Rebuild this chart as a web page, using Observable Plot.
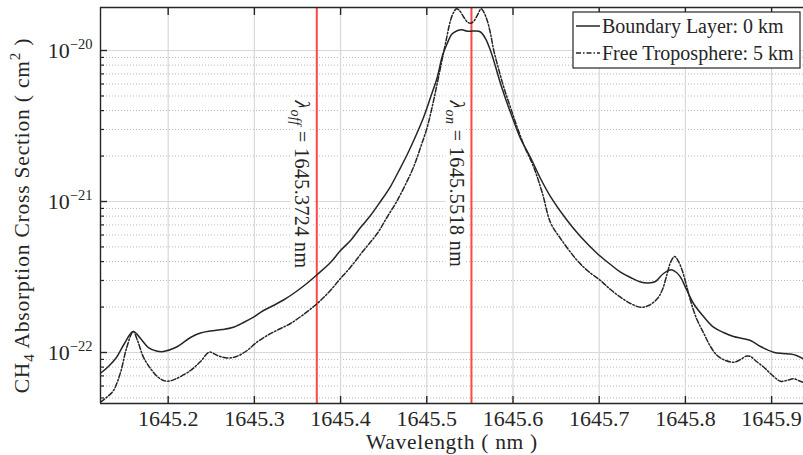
<!DOCTYPE html>
<html>
<head>
<meta charset="utf-8">
<script src="https://cdn.jsdelivr.net/npm/d3@7"></script>
<script src="https://cdn.jsdelivr.net/npm/@observablehq/plot@0.6"></script>
<style>
  html, body { margin: 0; padding: 0; background: #fff; }
  #chart svg { display: block; }
</style>
</head>
<body>
<div id="chart"></div>
<script>
// ---- data ----
const blWl = [1645.1215,1645.1307,1645.1400,1645.1493,1645.1594,1645.1679,1645.1771,1645.1864,1645.1945,1645.2085,1645.2259,1645.2375,1645.2491,1645.2630,1645.2746,1645.2874,1645.2990,1645.3106,1645.3222,1645.3338,1645.3454,1645.3593,1645.3729,1645.3883,1645.3999,1645.4115,1645.4231,1645.4347,1645.4463,1645.4579,1645.4672,1645.4773,1645.4869,1645.4962,1645.5043,1645.5121,1645.5182,1645.5237,1645.5287,1645.5345,1645.5411,1645.5461,1645.5507,1645.5565,1645.5623,1645.5681,1645.5739,1645.5797,1645.5855,1645.5925,1645.6006,1645.6087,1645.6203,1645.6319,1645.6435,1645.6629,1645.6783,1645.6977,1645.7131,1645.7247,1645.7363,1645.7479,1645.7572,1645.7653,1645.7746,1645.7835,1645.7897,1645.7943,1645.8013,1645.8094,1645.8210,1645.8326,1645.8442,1645.8558,1645.8662,1645.8755,1645.8871,1645.9022,1645.9126,1645.9219,1645.9289,1645.9370];
const blSigma = [7.29e-23,8.08e-23,9.27e-23,1.147e-22,1.377e-22,1.238e-22,1.079e-22,1.023e-22,1.015e-22,1.079e-22,1.257e-22,1.346e-22,1.388e-22,1.420e-22,1.464e-22,1.580e-22,1.713e-22,1.897e-22,2.048e-22,2.227e-22,2.459e-22,2.820e-22,3.286e-22,3.945e-22,4.737e-22,5.515e-22,6.727e-22,8.075e-22,1.0e-21,1.257e-21,1.580e-21,2.048e-21,2.695e-21,3.600e-21,4.884e-21,6.625e-21,9.27e-21,1.113e-20,1.276e-20,1.346e-20,1.371e-20,1.346e-20,1.342e-20,1.346e-20,1.326e-20,1.201e-20,1.0e-20,7.834e-21,6.046e-21,4.596e-21,3.439e-21,2.613e-21,1.956e-21,1.420e-21,1.079e-21,7.485e-22,5.864e-22,4.524e-22,3.826e-22,3.403e-22,3.139e-22,2.930e-22,2.886e-22,2.952e-22,3.336e-22,3.529e-22,3.387e-22,3.153e-22,2.613e-22,2.111e-22,1.731e-22,1.471e-22,1.357e-22,1.276e-22,1.238e-22,1.201e-22,1.096e-22,1.005e-22,9.85e-23,9.77e-23,9.55e-23,9.06e-23];

const ftWl = [1645.1215,1645.1284,1645.1365,1645.1447,1645.1516,1645.1594,1645.1644,1645.1713,1645.1795,1645.1887,1645.1980,1645.2085,1645.2259,1645.2375,1645.2479,1645.2572,1645.2684,1645.2792,1645.2916,1645.3024,1645.3148,1645.3280,1645.3419,1645.3570,1645.3729,1645.3860,1645.3999,1645.4115,1645.4266,1645.4425,1645.4544,1645.4657,1645.4753,1645.4846,1645.4927,1645.5005,1645.5066,1645.5121,1645.5171,1645.5217,1645.5275,1645.5310,1645.5345,1645.5379,1645.5429,1645.5472,1645.5507,1645.5542,1645.5585,1645.5631,1645.5664,1645.5701,1645.5739,1645.5777,1645.5832,1645.5893,1645.5971,1645.6049,1645.6133,1645.6241,1645.6342,1645.6435,1645.6551,1645.6745,1645.6876,1645.7015,1645.7131,1645.7247,1645.7363,1645.7479,1645.7572,1645.7673,1645.7734,1645.7789,1645.7827,1645.7874,1645.7920,1645.7963,1645.8013,1645.8059,1645.8129,1645.8214,1645.8291,1645.8369,1645.8465,1645.8562,1645.8639,1645.8709,1645.8755,1645.8825,1645.8910,1645.8999,1645.9103,1645.9173,1645.9258,1645.9312,1645.9370];
const ftSigma = [4.688e-23,5.035e-23,5.602e-23,7.37e-23,1.063e-22,1.377e-22,1.201e-22,9.31e-23,7.834e-23,6.83e-23,6.455e-23,6.675e-23,7.60e-23,8.718e-23,1.005e-22,9.55e-23,9.197e-23,9.41e-23,1.031e-22,1.165e-22,1.296e-22,1.420e-22,1.556e-22,1.785e-22,2.111e-22,2.497e-22,3.091e-22,3.672e-22,4.737e-22,6.139e-22,7.95e-22,1.015e-21,1.296e-21,1.687e-21,2.279e-21,3.105e-21,4.323e-21,6.046e-21,8.326e-21,1.113e-20,1.580e-20,1.785e-20,1.889e-20,1.840e-20,1.662e-20,1.544e-20,1.516e-20,1.556e-20,1.705e-20,1.889e-20,1.785e-20,1.580e-20,1.296e-20,1.0e-20,7.60e-21,5.715e-21,4.193e-21,3.105e-21,2.313e-21,1.687e-21,1.130e-21,7.26e-22,5.69e-22,4.068e-22,3.439e-22,2.998e-22,2.613e-22,2.323e-22,2.111e-22,1.995e-22,2.048e-22,2.268e-22,2.613e-22,3.336e-22,3.945e-22,4.323e-22,4.005e-22,3.491e-22,2.777e-22,2.210e-22,1.679e-22,1.336e-22,1.096e-22,9.55e-23,8.85e-23,8.627e-23,8.985e-23,9.48e-23,9.41e-23,8.718e-23,7.99e-23,7.15e-23,6.455e-23,6.525e-23,6.695e-23,6.525e-23,6.328e-23];

const seriesNames = ["Boundary Layer: 0 km", "Free Troposphere: 5 km"];
const lineWl = [1645.3724, 1645.5518];
const lineName = ["off", "on"];

const xTicks = [1645.2, 1645.3, 1645.4, 1645.5, 1645.6, 1645.7, 1645.8, 1645.9];
const yMajor = [1e-22, 1e-21, 1e-20];
const yMinor = [5e-23,6e-23,7e-23,8e-23,9e-23,2e-22,3e-22,4e-22,5e-22,6e-22,7e-22,8e-22,9e-22,2e-21,3e-21,4e-21,5e-21,6e-21,7e-21,8e-21,9e-21];
const xDomain = [1645.1215, 1645.937];
const yDomain = [4.595e-23, 1.927e-20];

const xLabel = "Wavelength ( nm )";
const yLabel = "CH4 Absorption Cross Section ( cm2 )";

// ---- tables ----
const bl = blWl.map((w, i) => ({wl: w, s: blSigma[i]}));
const ft = ftWl.map((w, i) => ({wl: w, s: ftSigma[i]}));
const lines = lineWl.map((w, i) => ({wl: w, name: lineName[i]}));

const FONT = '"Liberation Serif", "Times New Roman", serif';
const INK = "#262626";

const chart = Plot.plot({
  width: 803,
  height: 455,
  marginLeft: 100,
  marginRight: 0,
  marginTop: 7,
  marginBottom: 52,
  style: {fontFamily: FONT, background: "#fff", color: INK, overflow: "visible"},
  x: {domain: xDomain},
  y: {type: "log", domain: yDomain},
  marks: [
    Plot.gridY(yMinor, {stroke: "#b8b8b8", strokeOpacity: 1, strokeWidth: 1, strokeDasharray: "1,2"}),
    Plot.gridY(yMajor, {stroke: "#d8d8d8", strokeOpacity: 1, strokeWidth: 1.2}),
    Plot.gridX(xTicks, {stroke: "#d8d8d8", strokeOpacity: 1, strokeWidth: 1.2}),
    Plot.ruleX(lines, {x: "wl", stroke: "#ff4747", strokeWidth: 2}),
    Plot.text(lines, {
      x: "wl",
      text: d => `λ${d.name} = ${d.wl.toFixed(4)} nm`,
      frameAnchor: "top",
      rotate: 90,
      textAnchor: "start",
      lineAnchor: "middle",
      dx: -15,
      dy: 93,
      fontSize: 20,
      fill: INK,
      stroke: "white",
      strokeWidth: 9,
      strokeLinejoin: "miter"
    }),
    Plot.line(bl, {x: "wl", y: "s", stroke: INK, strokeWidth: 1.5, curve: "catmull-rom", clip: true}),
    Plot.line(ft, {x: "wl", y: "s", stroke: INK, strokeWidth: 1.5, strokeDasharray: "5,2,1.5,2", curve: "catmull-rom", clip: true}),
    // axis lines
    Plot.ruleX([xDomain[0]], {stroke: INK, strokeWidth: 1.4}),
    Plot.ruleY([yDomain[0]], {stroke: INK, strokeWidth: 1.4}),
    Plot.ruleY([yDomain[1]], {stroke: INK, strokeWidth: 1.4}),
    // inward ticks
    Plot.axisX(xTicks, {anchor: "bottom", tickSize: -7, fill: "none", label: null, stroke: INK, strokeWidth: 1.4}),
    Plot.axisX(xTicks, {anchor: "top", tickSize: -7, fill: "none", label: null, stroke: INK, strokeWidth: 1.4}),
    Plot.axisY(yMajor, {anchor: "left", tickSize: -7, fill: "none", label: null, stroke: INK, strokeWidth: 1.4}),
    Plot.axisY(yMinor, {anchor: "left", tickSize: -4, fill: "none", label: null, stroke: INK, strokeWidth: 1.2}),
    // tick labels
    Plot.axisX(xTicks, {anchor: "bottom", tickSize: 0, tickPadding: 7, label: null, fontSize: 22, fill: INK, tickFormat: d => d.toFixed(1)}),
    Plot.axisY(yMajor, {anchor: "left", tickSize: 0, tickPadding: 8, label: null, fontSize: 22, fill: INK, tickFormat: d => "10^" + Math.round(Math.log10(d))}),
    // axis titles
    Plot.text([xLabel], {frameAnchor: "bottom", dy: 39, text: d => d, fontSize: 21.5, fill: INK, textAnchor: "middle", lineAnchor: "middle"}),
    Plot.text([yLabel], {frameAnchor: "left", dx: -78, dy: 10, rotate: -90, text: d => d, fontSize: 21.5, fill: INK, textAnchor: "middle", lineAnchor: "middle"})
  ]
});

document.getElementById("chart").appendChild(chart);

// ---- rich text (sub/superscripts) ----
function rich(el, parts) {
  const s = d3.select(el);
  s.text("");
  let cur = 0;
  for (const p of parts) {
    const ts = s.append("tspan").text(p.t);
    const target = p.shift || 0;
    if (target !== cur) { ts.attr("dy", target - cur); cur = target; }
    if (p.size) ts.attr("font-size", p.size);
    if (p.italic) ts.attr("font-style", "italic");
  }
}

const svg = d3.select(chart);
svg.selectAll("text").each(function() {
  const t = this.textContent;
  if (t.startsWith("10^")) {
    const e = t.slice(3).replace("-", "\u2212");
    rich(this, [{t: "10"}, {t: e, shift: -9, size: 14.5}]);
  } else if (t.startsWith("λ")) {
    const m = t.match(/^λ(\w+)( = .*)$/);
    rich(this, [{t: "λ", italic: true}, {t: m[1], shift: 4, size: 14, italic: true}, {t: m[2], shift: 0}]);
    d3.select(this).attr("letter-spacing", 0.4);
  } else if (t === yLabel) {
    rich(this, [{t: "CH"}, {t: "4", shift: 5, size: 15}, {t: " Absorption Cross Section ( cm", shift: 0}, {t: "2", shift: -9, size: 15}, {t: " )", shift: 0}]);
    d3.select(this).attr("letter-spacing", 0.8);
  } else if (t === xLabel) {
    d3.select(this).attr("letter-spacing", 0.7);
  }
});

// ---- legend ----
const lg = svg.append("g").attr("font-family", FONT).attr("font-size", 20).attr("fill", INK).attr("text-anchor", "start");
lg.append("rect").attr("x", 573).attr("y", 12).attr("width", 227).attr("height", 56)
  .attr("fill", "white").attr("stroke", INK).attr("stroke-width", 1.2);
const dashes = [null, "5,2,1.5,2"];
seriesNames.forEach((name, i) => {
  const yy = 26 + i * 27;
  lg.append("line").attr("x1", 576).attr("x2", 600).attr("y1", yy).attr("y2", yy)
    .attr("stroke", INK).attr("stroke-width", 1.5).attr("stroke-dasharray", dashes[i]);
  lg.append("text").attr("x", 602).attr("y", yy).attr("dy", "0.34em").attr("text-anchor", "start").text(name);
});
</script>
</body>
</html>
